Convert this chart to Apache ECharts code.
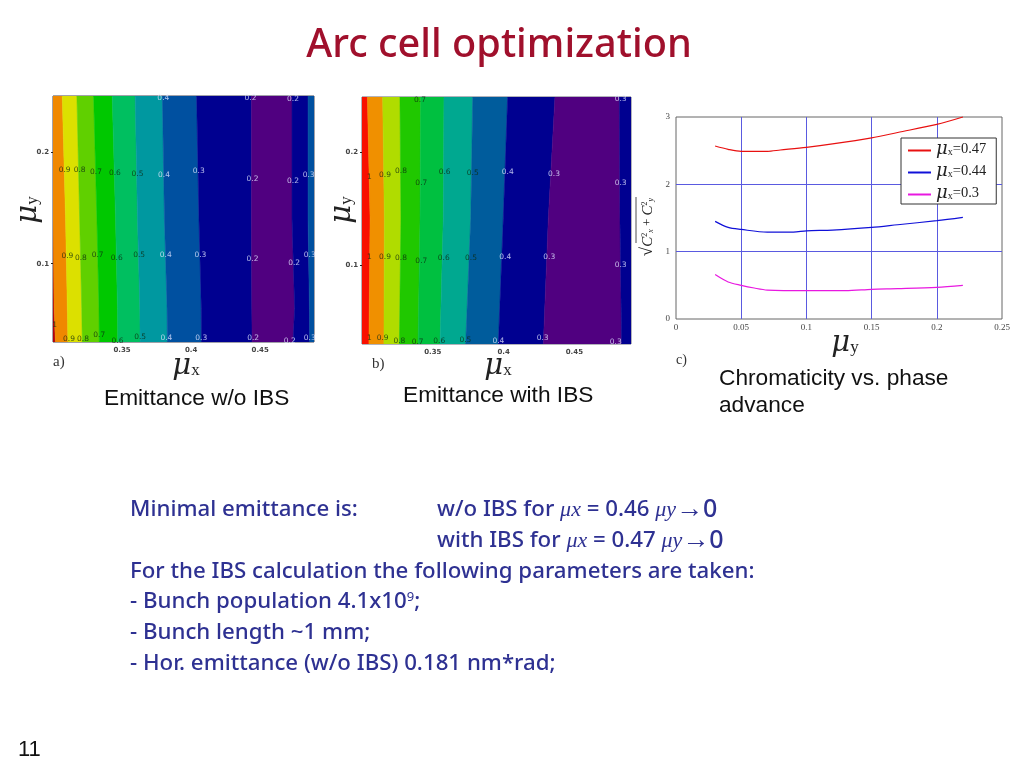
<!DOCTYPE html>
<html>
<head>
<meta charset="utf-8">
<style>html,body{margin:0;padding:0;background:#fff}#c{width:1024px;height:768px}</style>
<script src="https://cdn.jsdelivr.net/npm/echarts@6/dist/echarts.min.js"></script>
</head>
<body>
<div id="c"></div>
<script>
// ----- Panel a: contour boundaries (mu_x at each mu_y sample)
var aYSamples = [0.03, 0.06, 0.14, 0.25];
var aEdges = [
  [0.3017, 0.3008, 0.3000, 0.3000],
  [0.3108, 0.3104, 0.3091, 0.3067],
  [0.3212, 0.3208, 0.3193, 0.3173],
  [0.3335, 0.3333, 0.3318, 0.3294],
  [0.3469, 0.3467, 0.3453, 0.3429],
  [0.3631, 0.3629, 0.3612, 0.3595],
  [0.3828, 0.3826, 0.3807, 0.3792],
  [0.4076, 0.4074, 0.4057, 0.4040],
  [0.4442, 0.4440, 0.4437, 0.4437],
  [0.4738, 0.4750, 0.4731, 0.4731],
  [0.4859, 0.4857, 0.4847, 0.4847]
];
var aColors = ['#b00010','#f08800','#dce000','#60d000','#00c800','#00bf60','#0098a0','#0050a0','#000090','#500080','#000090','#0050a0'];
var aLabels = [
  [0.3799,0.2485,'0.4'],[0.4430,0.2485,'0.2'],[0.4738,0.2473,'0.2'],
  [0.3084,0.1835,'0.9'],[0.3193,0.1841,'0.8'],[0.3311,0.1821,'0.7'],[0.3448,0.1815,'0.6'],[0.3612,0.1803,'0.5'],
  [0.3804,0.1797,'0.4'],[0.4055,0.1830,'0.3'],[0.4445,0.1761,'0.2'],[0.4738,0.1743,'0.2'],[0.4851,0.1797,'0.3'],
  [0.3104,0.1069,'0.9'],[0.3202,0.1054,'0.8'],[0.3323,0.1075,'0.7'],[0.3462,0.1054,'0.6'],[0.3624,0.1075,'0.5'],
  [0.3816,0.1075,'0.4'],[0.4067,0.1075,'0.3'],[0.4445,0.1042,'0.2'],[0.4746,0.1009,'0.2'],[0.4859,0.1075,'0.3'],
  [0.3116,0.0324,'0.9'],[0.3217,0.0330,'0.8'],[0.3335,0.0360,'0.7'],[0.3467,0.0312,'0.6'],[0.3631,0.0342,'0.5'],
  [0.3821,0.0339,'0.4'],[0.4074,0.0336,'0.3'],[0.4449,0.0336,'0.2'],[0.4714,0.0312,'0.2'],[0.4859,0.0339,'0.3'],
  [0.3012,0.0455,'1']
];
// ----- Panel b
var bYSamples = [0.03, 0.141, 0.2485];
var bEdges = [
  [0.3049, 0.3057, 0.3038],
  [0.3155, 0.3158, 0.3146],
  [0.3264, 0.3275, 0.3268],
  [0.3396, 0.3410, 0.3414],
  [0.3551, 0.3574, 0.3579],
  [0.3732, 0.3768, 0.3782],
  [0.3963, 0.3998, 0.4029],
  [0.4281, 0.4316, 0.4363],
  [0.4834, 0.4822, 0.4818]
];
var bColors = ['#f81000','#f09000','#b0dc00','#20c800','#00c040','#00a890','#005c9c','#000090','#500080','#000090'];
var bLabels = [
  [0.3410,0.2458,'0.7'],[0.4827,0.2464,'0.3'],
  [0.3052,0.1778,'1'],[0.3162,0.1799,'0.9'],[0.3275,0.1831,'0.8'],[0.3419,0.1725,'0.7'],[0.3584,0.1819,'0.6'],
  [0.3782,0.1811,'0.5'],[0.4029,0.1825,'0.4'],[0.4356,0.1805,'0.3'],[0.4827,0.1725,'0.3'],
  [0.3052,0.1069,'1'],[0.3162,0.1072,'0.9'],[0.3275,0.1063,'0.8'],[0.3419,0.1030,'0.7'],[0.3577,0.1063,'0.6'],
  [0.3770,0.1057,'0.5'],[0.4012,0.1069,'0.4'],[0.4323,0.1066,'0.3'],[0.4827,0.0998,'0.3'],
  [0.3052,0.0350,'1'],[0.3146,0.0350,'0.9'],[0.3264,0.0329,'0.8'],[0.3393,0.0318,'0.7'],[0.3546,0.0329,'0.6'],
  [0.3730,0.0332,'0.5'],[0.3963,0.0327,'0.4'],[0.4276,0.0356,'0.3'],[0.4792,0.0315,'0.3']
];
// ----- Panel c
var redCurve = [[0.03,2.57],[0.04,2.52],[0.05,2.49],[0.07,2.49],[0.08,2.51],[0.1,2.55],[0.12,2.60],[0.15,2.69],[0.17,2.77],[0.2,2.89],[0.22,3.0]];
var blueCurve = [[0.03,1.45],[0.04,1.36],[0.05,1.33],[0.07,1.29],[0.09,1.29],[0.1,1.31],[0.12,1.32],[0.15,1.36],[0.17,1.40],[0.2,1.46],[0.22,1.51]];
var magentaCurve = [[0.03,0.66],[0.04,0.55],[0.05,0.50],[0.06,0.46],[0.07,0.43],[0.1,0.42],[0.13,0.42],[0.15,0.44],[0.17,0.45],[0.2,0.47],[0.22,0.50]];
var seriesNames = ['0.47','0.44','0.3'];

function contourSeries(gridIdx, edges, ySamples, colors, xMin, xMax) {
  var idx = colors.map(function (_, i) { return [i]; });
  return {
    type: 'custom', xAxisIndex: gridIdx, yAxisIndex: gridIdx, silent: true, clip: true, z: 1,
    data: idx, encode: { x: [], y: [] },
    renderItem: function (params, api) {
      var i = api.value(0), pts = [], k;
      for (k = 0; k < ySamples.length; k++) {
        pts.push(api.coord([i === 0 ? xMin : edges[i - 1][k], ySamples[k]]));
      }
      for (k = ySamples.length - 1; k >= 0; k--) {
        pts.push(api.coord([i === edges.length ? xMax : edges[i][k], ySamples[k]]));
      }
      return { type: 'polygon', shape: { points: pts },
        style: { fill: colors[i], stroke: colors[i], lineWidth: 0.5 } };
    }
  };
}
function labelSeries(gridIdx, labels) {
  return {
    type: 'scatter', xAxisIndex: gridIdx, yAxisIndex: gridIdx, symbolSize: 0, silent: true, z: 3, clip: true,
    data: labels.map(function (l) {
      var light = l[0] > (gridIdx === 0 ? 0.372 : 0.385);
      return { value: [l[0], l[1]], label: { show: true, position: 'inside', formatter: l[2],
        color: light ? '#dfe4ff' : '#0c2a10', fontSize: 7.5, fontWeight: 'normal', fontFamily: 'DejaVu Sans', textBorderWidth: 0, textBorderColor: 'transparent' } };
    })
  };
}
function heatX(i, min, max) {
  return { type: 'value', gridIndex: i, min: min, max: max, splitLine: { show: false },
    axisLine: { show: false }, axisTick: { show: true, inside: true, length: 2, customValues: [0.35, 0.4, 0.45], lineStyle: { color: '#222' } },
    axisLabel: { customValues: [0.35, 0.4, 0.45], fontSize: 7, fontWeight: 'bold', color: '#444', margin: 5, fontFamily: 'DejaVu Sans',
      formatter: function (v) { return String(+v.toFixed(2)); } } };
}
function heatY(i, min, max) {
  return { type: 'value', gridIndex: i, min: min, max: max, splitLine: { show: false },
    axisLine: { show: false }, axisTick: { show: true, inside: false, length: 2, customValues: [0.1, 0.2], lineStyle: { color: '#222' } },
    axisLabel: { customValues: [0.1, 0.2], fontSize: 7, fontWeight: 'bold', color: '#444', margin: 4, fontFamily: 'DejaVu Sans',
      formatter: function (v) { return String(+v.toFixed(2)); } } };
}
var lineRich = { m: { fontFamily: 'DejaVu Serif', fontSize: 18, fontStyle: 'italic', color: '#222' },
                 s: { fontFamily: 'Liberation Serif', fontSize: 10, color: '#222', padding: [7, 0, 0, 0] },
                 t: { fontFamily: 'Liberation Serif', fontSize: 14.5, color: '#222' } };
function lineSeries(name, data, color) {
  return { name: name, type: 'line', xAxisIndex: 2, yAxisIndex: 2, data: data, smooth: 0.3, showSymbol: false,
    lineStyle: { color: color, width: 1.2 }, itemStyle: { color: color }, z: 4, clip: false };
}
var BODY = 'Noto Sans', NAVY = '#2e3192';
var muRich = { m: { fontFamily: 'DejaVu Serif', fontStyle: 'italic', fontSize: 29, fill: '#222' },
               s: { fontFamily: 'Liberation Serif', fontSize: 17, fill: '#222', padding: [10, 0, 0, 0] } };
function muText(x, y, sub, rot) {
  return { type: 'text', x: x, y: y, rotation: rot || 0,
    style: { text: '{m|μ}{s|' + sub + '}', rich: muRich, align: 'center', verticalAlign: 'middle' } };
}
function free(x, y, text, size, family, color, extra) {
  var st = { text: text, fontSize: size, fontFamily: family, fill: color, align: 'left', verticalAlign: 'middle' };
  for (var k in (extra || {})) st[k] = extra[k];
  return { type: 'text', x: x, y: y, style: st };
}
var bodyRich = {
  g: { fontFamily: 'Liberation Serif', fontStyle: 'italic', fontSize: 22, fill: NAVY },
  n: { fontFamily: BODY, fontSize: 22.25, fill: NAVY, fontWeight: 500 },
  a: { fontFamily: 'Liberation Serif', fontSize: 27, fill: NAVY },
  z: { fontFamily: BODY, fontSize: 25, fill: NAVY, fontWeight: 500 },
  p: { fontFamily: BODY, fontSize: 13, fill: NAVY, padding: [0, 0, 10, 0] }
};
function body(x, y, t) {
  return { type: 'text', x: x, y: y, style: { text: t, rich: bodyRich, align: 'left', verticalAlign: 'middle' } };
}
var frm = '#222';
var option = {
  animation: false,
  backgroundColor: '#ffffff',
  tooltip: { show: false },
  grid: [
    { left: 53, top: 96, width: 261, height: 246, show: true, borderColor: '#445', borderWidth: 1, backgroundColor: 'transparent' },
    { left: 362, top: 97, width: 269, height: 247, show: true, borderColor: '#667', borderWidth: 1, backgroundColor: 'transparent' },
    { left: 676, top: 117, width: 326, height: 202, show: true, borderColor: '#666', borderWidth: 1, backgroundColor: 'transparent' }
  ],
  xAxis: [
    heatX(0, 0.30, 0.489), heatX(1, 0.30, 0.49),
    { type: 'value', gridIndex: 2, min: 0, max: 0.25, interval: 0.05,
      splitLine: { show: true, showMinLine: false, showMaxLine: false, lineStyle: { color: '#5a5ae0', width: 1 } }, axisLine: { show: false }, axisTick: { show: false },
      axisLabel: { fontSize: 9, fontFamily: 'Liberation Serif', color: '#444', margin: 4, showMaxLabel: true, showMinLabel: true,
        formatter: function (v) { return String(+v.toFixed(2)); } } }
  ],
  yAxis: [
    heatY(0, 0.03, 0.25), heatY(1, 0.03, 0.2485),
    { type: 'value', gridIndex: 2, min: 0, max: 3, interval: 1,
      splitLine: { show: true, showMinLine: false, showMaxLine: false, lineStyle: { color: '#5a5ae0', width: 1 } }, axisLine: { show: false }, axisTick: { show: false },
      axisLabel: { fontSize: 9, fontFamily: 'Liberation Serif', color: '#444', margin: 6 } }
  ],
  legend: {
    show: true, orient: 'vertical', left: 901, top: 138, padding: [2, 10, 2, 7], itemGap: 4,
    itemWidth: 23, itemHeight: 2, borderColor: '#333', borderWidth: 1, backgroundColor: '#fff', selectedMode: false, icon: 'rect', z: 10,
    data: ['0.47', '0.44', '0.3'],
    formatter: function (n) { return '{m|μ}{s|x}{t|=' + n + '}'; },
    textStyle: { rich: lineRich, height: 21 }
  },
  series: [
    contourSeries(0, aEdges, aYSamples, aColors, 0.30, 0.489),
    labelSeries(0, aLabels),
    contourSeries(1, bEdges, bYSamples, bColors, 0.30, 0.49),
    labelSeries(1, bLabels),
    lineSeries(seriesNames[0], redCurve, '#e81010'),
    lineSeries(seriesNames[1], blueCurve, '#1010d8'),
    lineSeries(seriesNames[2], magentaCurve, '#e818e0')
  ],
  graphic: [
    { type: 'text', x: 499, y: 46, style: { text: 'Arc cell optimization', fontSize: 39.7, fontFamily: BODY, fill: '#a0102c', align: 'center', verticalAlign: 'middle', fontWeight: 500 } },
    muText(186, 366, 'x'), muText(28, 210, 'y', Math.PI / 2),
    muText(498, 366, 'x'), muText(342, 210, 'y', Math.PI / 2),
    muText(845, 343, 'y'),
    free(53, 362, 'a)', 15, 'Liberation Serif', '#333'),
    free(372, 364, 'b)', 15, 'Liberation Serif', '#333'),
    free(676, 360, 'c)', 14, 'Liberation Serif', '#333'),
    free(104, 399, 'Emittance w/o IBS', 22.7, 'Liberation Sans', '#111'),
    free(403, 396, 'Emittance with IBS', 22.7, 'Liberation Sans', '#111'),
    free(719, 379, 'Chromaticity vs. phase', 22.7, 'Liberation Sans', '#111'),
    free(719, 406, 'advance', 22.7, 'Liberation Sans', '#111'),
    { type: 'text', x: 648, y: 227, rotation: Math.PI / 2,
      style: { text: '{r|√}{c|C}{u|2}{w|x}{p| + }{c|C}{u|2}{w|y}', align: 'center', verticalAlign: 'middle',
        rich: { r: { fontFamily: 'Liberation Serif', fontSize: 17, fill: frm }, c: { fontFamily: 'Liberation Serif', fontStyle: 'italic', fontSize: 15, fill: frm },
                u: { fontFamily: 'Liberation Serif', fontSize: 8, fill: frm, padding: [0, 0, 7, 0] }, w: { fontFamily: 'Liberation Serif', fontStyle: 'italic', fontSize: 8, fill: frm, padding: [5, 0, 0, 0] },
                p: { fontFamily: 'Liberation Serif', fontSize: 13, fill: frm } } } },
    { type: 'line', shape: { x1: 636, y1: 197, x2: 636, y2: 243 }, style: { stroke: '#222', lineWidth: 0.8 } },
    body(130, 510, '{n|Minimal emittance is:}'),
    body(437, 510, '{n|w/o IBS for }{g|μx}{n| = 0.46 }{g|μy}{a|→}{z|0}'),
    body(437, 541, '{n|with IBS for }{g|μx}{n| = 0.47 }{g|μy}{a|→}{z|0}'),
    body(130, 572, '{n|For the IBS calculation the following parameters are taken:}'),
    body(130, 602, '{n|- Bunch population 4.1x10}{p|9}{n|;}'),
    body(130, 633, '{n|- Bunch length ~1 mm;}'),
    body(130, 664, '{n|- Hor. emittance (w/o IBS) 0.181 nm*rad;}'),
    free(18, 750, '11', 22, 'Liberation Sans', '#111')
  ]
};
echarts.init(document.getElementById('c'), null, { renderer: 'canvas' }).setOption(option);
</script>
</body>
</html>
